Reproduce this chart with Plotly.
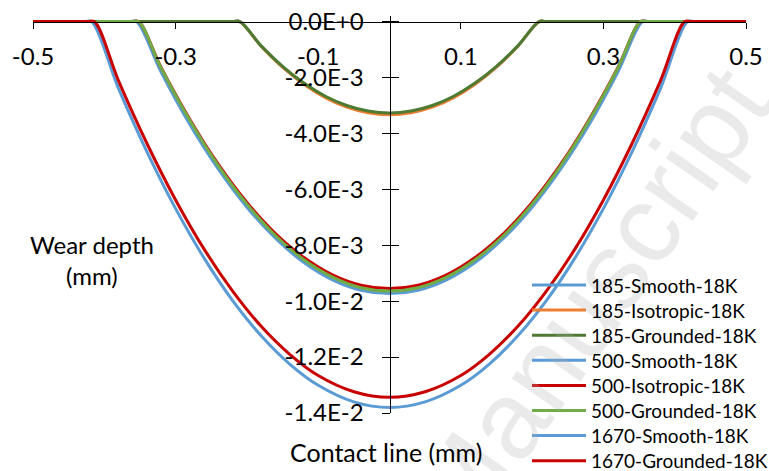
import plotly.graph_objects as go

# ---- wear profiles: contact line position (mm) vs wear depth (mm) ----
x_185 = [-0.5, -0.22, -0.21, -0.18, -0.15, -0.12, -0.09, -0.06, -0.03, 0.0,
         0.03, 0.06, 0.09, 0.12, 0.15, 0.18, 0.21, 0.22, 0.5]
d_185_smooth = [0, 0, 0, -0.87e-3, -1.62e-3, -2.22e-3, -2.69e-3, -3.03e-3, -3.23e-3, -3.30e-3,
                -3.23e-3, -3.03e-3, -2.69e-3, -2.22e-3, -1.62e-3, -0.87e-3, 0, 0, 0]
d_185_iso = [0, 0, 0, -0.88e-3, -1.63e-3, -2.24e-3, -2.72e-3, -3.06e-3, -3.26e-3, -3.33e-3,
             -3.26e-3, -3.06e-3, -2.72e-3, -2.24e-3, -1.63e-3, -0.88e-3, 0, 0, 0]
d_185_ground = [0, 0, 0, -0.87e-3, -1.60e-3, -2.20e-3, -2.67e-3, -3.00e-3, -3.20e-3, -3.27e-3,
                -3.20e-3, -3.00e-3, -2.67e-3, -2.20e-3, -1.60e-3, -0.87e-3, 0, 0, 0]

x_500 = [-0.5, -0.362, -0.352, -0.32, -0.28, -0.24, -0.20, -0.16, -0.12, -0.08, -0.04, 0.0,
         0.04, 0.08, 0.12, 0.16, 0.20, 0.24, 0.28, 0.32, 0.352, 0.362, 0.5]
x_500_smooth = [-0.5, -0.365, -0.355, -0.32, -0.28, -0.24, -0.20, -0.16, -0.12, -0.08, -0.04, 0.0,
                0.04, 0.08, 0.12, 0.16, 0.20, 0.24, 0.28, 0.32, 0.355, 0.365, 0.5]
d_500_smooth = [0, 0, 0, -1.82e-3, -3.68e-3, -5.28e-3, -6.64e-3, -7.75e-3, -8.62e-3, -9.24e-3, -9.61e-3, -9.73e-3,
                -9.61e-3, -9.24e-3, -8.62e-3, -7.75e-3, -6.64e-3, -5.28e-3, -3.68e-3, -1.82e-3, 0, 0, 0]
d_500_iso = [0, 0, 0, -1.66e-3, -3.50e-3, -5.11e-3, -6.47e-3, -7.58e-3, -8.44e-3, -9.06e-3, -9.43e-3, -9.55e-3,
             -9.43e-3, -9.06e-3, -8.44e-3, -7.58e-3, -6.47e-3, -5.11e-3, -3.50e-3, -1.66e-3, 0, 0, 0]
d_500_ground = [0, 0, 0, -1.68e-3, -3.54e-3, -5.16e-3, -6.53e-3, -7.65e-3, -8.52e-3, -9.14e-3, -9.52e-3, -9.64e-3,
                -9.52e-3, -9.14e-3, -8.52e-3, -7.65e-3, -6.53e-3, -5.16e-3, -3.54e-3, -1.68e-3, 0, 0, 0]

x_1670_smooth = [-0.5, -0.428, -0.418, -0.38, -0.34, -0.30, -0.26, -0.22, -0.18, -0.14, -0.10, -0.05, 0.0,
                 0.05, 0.10, 0.14, 0.18, 0.22, 0.26, 0.30, 0.34, 0.38, 0.418, 0.428, 0.5]
d_1670_smooth = [0, 0, 0, -2.40e-3, -4.67e-3, -6.69e-3, -8.46e-3, -9.98e-3, -11.24e-3, -12.25e-3, -13.01e-3,
                 -13.60e-3, -13.80e-3, -13.60e-3, -13.01e-3, -12.25e-3, -11.24e-3, -9.98e-3, -8.46e-3,
                 -6.69e-3, -4.67e-3, -2.40e-3, 0, 0, 0]
x_1670_ground = [-0.5, -0.424, -0.414, -0.38, -0.34, -0.30, -0.26, -0.22, -0.18, -0.14, -0.10, -0.05, 0.0,
                 0.05, 0.10, 0.14, 0.18, 0.22, 0.26, 0.30, 0.34, 0.38, 0.414, 0.424, 0.5]
d_1670_ground = [0, 0, 0, -2.12e-3, -4.37e-3, -6.38e-3, -8.14e-3, -9.64e-3, -10.90e-3, -11.90e-3, -12.66e-3,
                 -13.24e-3, -13.44e-3, -13.24e-3, -12.66e-3, -11.90e-3, -10.90e-3, -9.64e-3, -8.14e-3,
                 -6.38e-3, -4.37e-3, -2.12e-3, 0, 0, 0]

series = [
    ("185-Smooth-18K", x_185, d_185_smooth, "#5B9BD5"),
    ("185-Isotropic-18K", x_185, d_185_iso, "#ED7D31"),
    ("185-Grounded-18K", x_185, d_185_ground, "#4E7B31"),
    ("500-Smooth-18K", x_500_smooth, d_500_smooth, "#5B9BD5"),
    ("500-Isotropic-18K", x_500, d_500_iso, "#C80000"),
    ("500-Grounded-18K", x_500, d_500_ground, "#70AD47"),
    ("1670-Smooth-18K", x_1670_smooth, d_1670_smooth, "#5B9BD5"),
    ("1670-Grounded-18K", x_1670_ground, d_1670_ground, "#C80000"),
]

x_ticks = [-0.5, -0.3, -0.1, 0.1, 0.3, 0.5]
x_tick_text = ["-0.5", "-0.3", "-0.1", "0.1", "0.3", "0.5"]
y_ticks = [0, -0.002, -0.004, -0.006, -0.008, -0.010, -0.012, -0.014]
y_tick_text = ["0.0E+0", "-2.0E-3", "-4.0E-3", "-6.0E-3", "-8.0E-3", "-1.0E-2", "-1.2E-2", "-1.4E-2"]

x_range = [-0.5, 0.5]
y_range = [-0.014, 0.0002]

FONT = "Lato"
W, H = 769, 471
M = dict(l=33, r=23, t=16, b=58)
PW = W - M["l"] - M["r"]
PH = H - M["t"] - M["b"]


def px_x(px):
    """Horizontal pixel -> paper fraction."""
    return (px - M["l"]) / PW


def px_y(py):
    """Vertical pixel (from top) -> paper fraction."""
    return (H - M["b"] - py) / PH


fig = go.Figure()
for name, xs, ys, color in series:
    fig.add_trace(go.Scatter(
        x=xs, y=ys, name=name, mode="lines", showlegend=False,
        line=dict(color=color, width=3, shape="spline", smoothing=1),
    ))

# helper trace so the overlaid axis (cross tick marks) is drawn
fig.add_trace(go.Scatter(x=[None], y=[None], yaxis="y2", showlegend=False, hoverinfo="skip"))

# axes cross at the origin
x_axis_pos = (0 - y_range[0]) / (y_range[1] - y_range[0])
y_axis_pos = (0 - x_range[0]) / (x_range[1] - x_range[0])

annotations = [
    dict(text="Accepted Manuscript", xref="paper", yref="paper",
         x=px_x(449), y=px_y(501), xanchor="center", yanchor="middle",
         showarrow=False, textangle=-55,
         font=dict(family="Liberation Sans", size=110, color="rgba(170,170,170,0.25)")),
    dict(text="Wear depth<br>(mm)", xref="paper", yref="paper", x=px_x(92), y=px_y(260),
         showarrow=False, align="center", xanchor="center", yanchor="middle",
         font=dict(family=FONT, size=24, color="black")),
    dict(text="Contact line (mm)", xref="paper", yref="paper", x=px_x(386), y=px_y(452),
         showarrow=False, xanchor="center", yanchor="middle",
         font=dict(family=FONT, size=25, color="black")),
]
shapes = []

# legend: line sample + label for each series
LEG_X0, LEG_X1, LEG_TX, LEG_Y0, LEG_DY = 532, 586, 589, 285, 25.1
for i, (name, _, _, color) in enumerate(series):
    yy = px_y(LEG_Y0 + i * LEG_DY)
    shapes.append(dict(type="line", xref="paper", yref="paper",
                       x0=px_x(LEG_X0), x1=px_x(LEG_X1), y0=yy, y1=yy,
                       line=dict(color=color, width=3)))
    annotations.append(dict(text=name, xref="paper", yref="paper",
                            x=px_x(LEG_TX), y=yy, xanchor="left", yanchor="middle",
                            showarrow=False, font=dict(family=FONT, size=19, color="black")))

fig.update_layout(
    width=W, height=H,
    margin=dict(**M, autoexpand=False),
    paper_bgcolor="white", plot_bgcolor="white",
    font=dict(family=FONT, color="black"),
    showlegend=False,
    xaxis=dict(
        range=x_range, anchor="free", position=x_axis_pos, side="bottom",
        tickvals=x_ticks, ticktext=x_tick_text,
        ticks="outside", ticklen=6, tickwidth=1, tickcolor="black",
        ticklabelstandoff=8,
        showline=True, linecolor="black", linewidth=1,
        showgrid=False, zeroline=False,
        tickfont=dict(family=FONT, size=24, color="black"),
    ),
    yaxis=dict(
        range=y_range, anchor="free", position=y_axis_pos, side="left",
        tickvals=y_ticks, ticktext=y_tick_text,
        ticks="outside", ticklen=8, tickwidth=1, tickcolor="black",
        ticklabelstandoff=13,
        showline=True, linecolor="black", linewidth=1,
        showgrid=False, zeroline=False,
        tickfont=dict(family=FONT, size=24, color="black"),
    ),
    yaxis2=dict(
        range=y_range, overlaying="y", anchor="free", position=y_axis_pos, side="left",
        tickvals=y_ticks, ticks="inside", ticklen=8, tickwidth=1, tickcolor="black",
        showticklabels=False, showline=False, showgrid=False, zeroline=False,
    ),
    annotations=annotations,
    shapes=shapes,
)

fig.write_html("out.html")
